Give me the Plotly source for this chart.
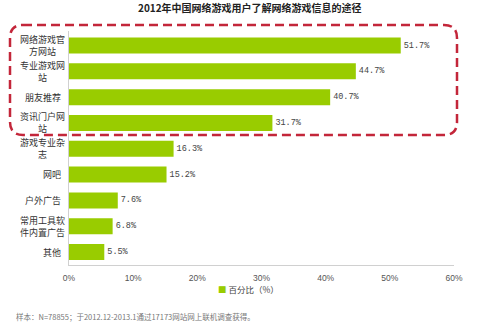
import plotly.graph_objects as go

# Channels through which online game users learn about games (2012)
categories = [
    "网络游戏官<br>方网站",
    "专业游戏网<br>站",
    "朋友推荐",
    "资讯门户网<br>站",
    "游戏专业杂<br>志",
    "网吧",
    "户外广告",
    "常用工具软<br>件内置广告",
    "其他",
]
share = [51.7, 44.7, 40.7, 31.7, 16.3, 15.2, 7.6, 6.8, 5.5]
x_ticks = [0, 10, 20, 30, 40, 50, 60]
x_tick_labels = ["0%", "10%", "20%", "30%", "40%", "50%", "60%"]

title_text = "2012年中国网络游戏用户了解网络游戏信息的途径"
legend_text = "百分比（%）"
note_text = "样本：N=78855；于2012.12-2013.1通过17173网站网上联机调查获得。"

GREEN = "#99cc00"
RED = "#c3263a"
CJK = "Noto Sans CJK SC"

W, H = 500, 324
L, R, T, B = 69, 46, 31, 59
pw, ph = W - L - R, H - T - B


def px(x):
    return (x - L) / pw


def py(y):
    return (H - B - y) / ph


fig = go.Figure()
fig.add_trace(go.Bar(
    y=categories,
    x=share,
    orientation="h",
    marker=dict(color=GREEN, line=dict(width=0)),
    width=0.62,
    text=[f"{v:.1f}%" for v in share],
    textposition="outside",
    textfont=dict(family="Liberation Mono", size=8.5, color="#444"),
    cliponaxis=False,
    showlegend=False,
))

annotations = []
# category labels: single lines sit right next to the axis,
# two-line labels are stacked and centred on each other
label_font = dict(family=CJK, size=9, color="#333")
for c in categories:
    lines = c.split("<br>")
    if len(lines) == 1:
        annotations.append(dict(
            x=0, xref="paper", y=c, yref="y", text=c, showarrow=False,
            xanchor="right", xshift=-6, yanchor="middle", font=label_font,
        ))
    else:
        for i, line in enumerate(lines):
            annotations.append(dict(
                x=px(42), xref="paper", y=c, yref="y", text=line, showarrow=False,
                xanchor="center", yanchor="middle", yshift=6 - 12 * i,
                font=label_font,
            ))

annotations.append(dict(
    x=(250 - L) / pw, xref="paper", xanchor="center",
    y=py(8), yref="paper", yanchor="middle",
    text=f"<b>{title_text}</b>", showarrow=False,
    font=dict(family=CJK, size=10, color="#222"),
))
annotations.append(dict(
    x=px(216), xref="paper", xanchor="left",
    y=py(289), yref="paper", yanchor="middle",
    text=f"<span style='color:{GREEN}'>■</span> {legend_text}", showarrow=False,
    font=dict(family=CJK, size=8.5, color="#444"),
))
annotations.append(dict(
    x=px(14), xref="paper", xanchor="left",
    y=py(316), yref="paper", yanchor="middle",
    text=note_text, showarrow=False,
    font=dict(family=CJK, size=7.5, color="#777"),
))

# dashed rounded frame around the top four channels
x0, x1, y0, y1, r = 10, 457, 25, 135, 13
path = (
    f"M{px(x0 + r)},{py(y0)} L{px(x1 - r)},{py(y0)} "
    f"Q{px(x1)},{py(y0)} {px(x1)},{py(y0 + r)} "
    f"L{px(x1)},{py(y1 - r)} Q{px(x1)},{py(y1)} {px(x1 - r)},{py(y1)} "
    f"L{px(x0 + r)},{py(y1)} Q{px(x0)},{py(y1)} {px(x0)},{py(y1 - r)} "
    f"L{px(x0)},{py(y0 + r)} Q{px(x0)},{py(y0)} {px(x0 + r)},{py(y0)} Z"
)

fig.update_layout(
    width=W, height=H,
    margin=dict(l=L, r=R, t=T, b=B),
    paper_bgcolor="white", plot_bgcolor="white",
    annotations=annotations,
    shapes=[dict(
        type="path", xref="paper", yref="paper", path=path,
        line=dict(color=RED, width=2.5, dash="9px,5px"),
        fillcolor="rgba(0,0,0,0)", layer="above",
    )],
    xaxis=dict(
        range=[0, 60], tickvals=x_ticks, ticktext=x_tick_labels,
        showgrid=False, zeroline=False, showline=True, linecolor="#d0d0d0",
        linewidth=1, ticks="", ticklabelstandoff=5,
        tickfont=dict(family="Liberation Sans", size=8.5, color="#555"),
    ),
    yaxis=dict(
        autorange="reversed", showticklabels=False, showgrid=False,
        zeroline=False, showline=True, linecolor="#d0d0d0", linewidth=1, ticks="",
    ),
)

fig.write_html("out.html")
